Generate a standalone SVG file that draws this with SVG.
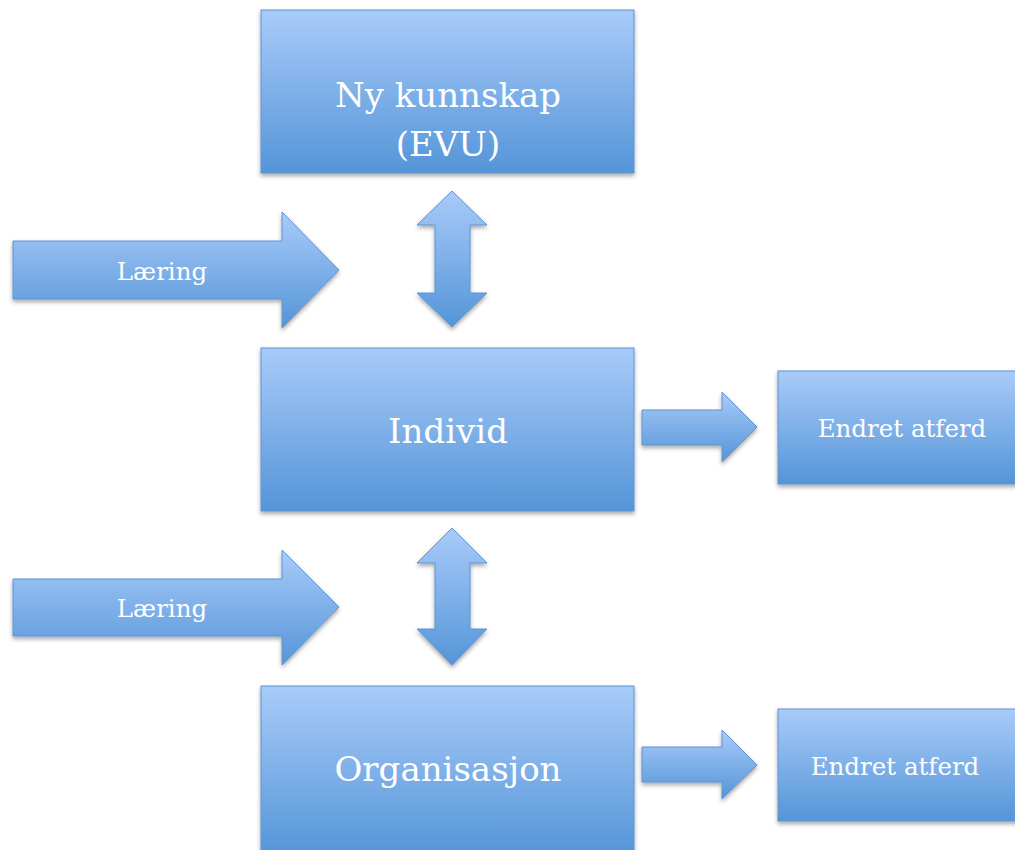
<svg xmlns="http://www.w3.org/2000/svg" width="1015" height="850" viewBox="0 0 1015 850">
<defs>
<linearGradient id="g" x1="0" y1="0" x2="0" y2="1">
<stop offset="0" stop-color="#a8cbf9"/>
<stop offset="1" stop-color="#5595d8"/>
</linearGradient>
<filter id="sh" x="-10%" y="-10%" width="120%" height="130%">
<feDropShadow dx="0" dy="2.5" stdDeviation="2" flood-color="#000" flood-opacity="0.35"/>
</filter>
<style>
.s{fill:url(#g);stroke:#5f93d3;stroke-width:1;filter:url(#sh)}
.t{font-family:"DejaVu Serif","Liberation Serif",serif;fill:#fff;text-anchor:middle}
.big{font-size:34px}
.sm{font-size:24.5px}
</style>
</defs>
<rect width="1015" height="850" fill="#fff"/>
<g id="connectors">
<path class="s" d="M13,241 H282 V212 L339,270 L282,328 V299 H13 Z"/>
<text class="t sm" x="162" y="280">Læring</text>
<path class="s" d="M13,579 H282 V550 L339,607 L282,665 V636 H13 Z"/>
<text class="t sm" x="162" y="617">Læring</text>
<path class="s" d="M452,191 L487,225 H470 V293 H487 L452,327 L417,293 H435 V225 H417 Z"/>
<path class="s" d="M452,528 L487,563 H470 V629 H487 L452,665 L417,629 H435 V563 H417 Z"/>
<path class="s" d="M642,410 H722 V392 L757,427 L722,462 V445 H642 Z"/>
<path class="s" d="M642,747 H722 V730 L757,765 L722,799 V782 H642 Z"/>
</g>
<g id="nykunnskap">
<rect class="s" x="261" y="10" width="373" height="163"/>
<text class="t big" x="448" y="107">Ny kunnskap</text>
<text class="t big" x="448" y="156">(EVU)</text>
</g>
<g id="individ">
<rect class="s" x="261" y="348" width="373" height="163"/>
<text class="t big" x="448" y="443">Individ</text>
</g>
<g id="organisasjon">
<rect class="s" x="261" y="686" width="373" height="170"/>
<text class="t big" x="448" y="781">Organisasjon</text>
</g>
<g id="endret1">
<rect class="s" x="778" y="371" width="245" height="113"/>
<text class="t sm" x="902" y="437">Endret atferd</text>
</g>
<g id="endret2">
<rect class="s" x="778" y="709" width="245" height="112"/>
<text class="t sm" x="895" y="775">Endret atferd</text>
</g>
</svg>
